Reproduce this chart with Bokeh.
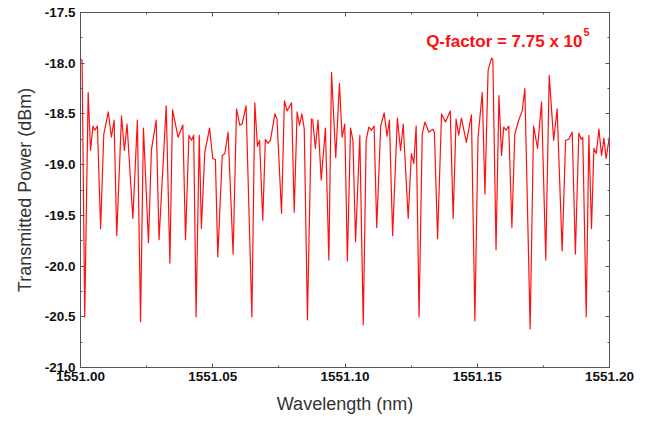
from bokeh.plotting import figure
from bokeh.models import (Range1d, LinearAxis, FixedTicker, NumeralTickFormatter, Label,
                          ColumnDataSource, CustomJSTickFormatter)
from bokeh.embed import file_html
from bokeh.resources import INLINE

# ---- data ----
wavelength = [
    1551.0000, 1551.0006, 1551.0016, 1551.0029, 1551.0038, 1551.0047, 1551.0054, 1551.0064,
    1551.0076, 1551.0088, 1551.0105, 1551.0117, 1551.0127, 1551.0137, 1551.0155, 1551.0166,
    1551.0176, 1551.0198, 1551.0215, 1551.0227, 1551.0238, 1551.0257, 1551.0268, 1551.0286,
    1551.0297, 1551.0324, 1551.0338, 1551.0348, 1551.0369, 1551.0387, 1551.0397, 1551.0410,
    1551.0420, 1551.0428, 1551.0437, 1551.0449, 1551.0457, 1551.0470,
    1551.0488, 1551.0500, 1551.0510, 1551.0519, 1551.0536, 1551.0546, 1551.0558, 1551.0577,
    1551.0590, 1551.0602, 1551.0611, 1551.0626, 1551.0648, 1551.0659, 1551.0669, 1551.0677,
    1551.0689, 1551.0699, 1551.0709, 1551.0718, 1551.0735, 1551.0743, 1551.0760, 1551.0771,
    1551.0781, 1551.0798, 1551.0808, 1551.0819, 1551.0828, 1551.0837, 1551.0846, 1551.0858,
    1551.0873, 1551.0878, 1551.0888, 1551.0898, 1551.0910, 1551.0926, 1551.0939, 1551.0949,
    1551.0965,
    1551.0979, 1551.0989, 1551.0999, 1551.1009, 1551.1021, 1551.1030, 1551.1040, 1551.1056,
    1551.1069, 1551.1080, 1551.1090, 1551.1100, 1551.1110, 1551.1120, 1551.1135, 1551.1148,
    1551.1159, 1551.1168, 1551.1180, 1551.1198, 1551.1210, 1551.1220, 1551.1239, 1551.1251,
    1551.1260, 1551.1269, 1551.1280, 1551.1292, 1551.1302, 1551.1317, 1551.1332, 1551.1338,
    1551.1350, 1551.1365, 1551.1380, 1551.1398, 1551.1409, 1551.1420, 1551.1430, 1551.1440,
    1551.1459,
    1551.1478, 1551.1491, 1551.1503, 1551.1519, 1551.1529, 1551.1541, 1551.1554, 1551.1559,
    1551.1571, 1551.1582, 1551.1592, 1551.1600, 1551.1609, 1551.1619, 1551.1631, 1551.1642,
    1551.1657, 1551.1670, 1551.1680, 1551.1700, 1551.1713, 1551.1728, 1551.1743, 1551.1759,
    1551.1772, 1551.1789, 1551.1802, 1551.1821, 1551.1834, 1551.1846, 1551.1859, 1551.1871,
    1551.1884, 1551.1893, 1551.1899, 1551.1912, 1551.1922, 1551.1932, 1551.1941, 1551.1950,
    1551.1960, 1551.1970, 1551.1979, 1551.1987, 1551.2000,
]
power_dbm = [
    -17.96, -17.97, -20.50, -18.29, -18.86, -18.62, -18.66, -18.62,
    -19.63, -18.70, -18.48, -18.73, -18.56, -19.70, -18.52, -18.86,
    -18.60, -19.53, -18.56, -20.55, -18.64, -19.77, -18.86, -18.56,
    -19.74, -18.42, -19.97, -18.46, -18.73, -18.61, -19.74, -18.71,
    -18.76, -18.71, -20.50, -18.71, -19.63, -18.88,
    -18.64, -18.94, -18.95, -19.91, -18.91, -18.89, -18.68, -19.88,
    -18.45, -18.61, -18.60, -18.42, -20.50, -18.39, -18.82, -18.76,
    -19.55, -18.75, -18.79, -18.76, -18.50, -18.55, -19.48, -18.37,
    -18.47, -18.39, -19.47, -18.48, -18.61, -18.50, -18.65, -20.53,
    -18.55, -18.56, -18.84, -18.56, -19.15, -18.64, -19.94, -18.09,
    -18.93,
    -18.20, -18.73, -18.60, -19.95, -18.64, -18.76, -19.76, -18.71,
    -20.58, -18.76, -18.63, -18.66, -18.62, -19.62, -18.62, -18.49,
    -18.72, -18.56, -19.70, -18.54, -18.86, -18.60, -19.53, -18.89,
    -18.99, -18.62, -20.50, -18.70, -18.58, -18.68, -18.65, -18.68,
    -19.73, -18.50, -18.58, -18.47, -19.53, -18.55, -18.71, -18.54,
    -18.78,
    -18.51, -20.54, -18.73, -18.29, -19.29, -18.07, -17.95, -17.96,
    -19.84, -18.32, -18.91, -18.63, -18.66, -18.62, -19.62, -18.70,
    -18.56, -18.47, -18.25, -20.62, -18.62, -18.84, -18.38, -19.94,
    -18.12, -18.76, -18.45, -19.85, -18.76, -18.75, -18.68, -19.88,
    -18.69, -18.75, -18.73, -20.50, -18.71, -19.63, -18.84, -18.89,
    -18.65, -18.91, -18.74, -18.94, -18.72,
]
x_ticks = [1551.00, 1551.05, 1551.10, 1551.15, 1551.20]
x_minor_ticks = [1551.025, 1551.075, 1551.125, 1551.175]
y_ticks = [-21.0, -20.5, -20.0, -19.5, -19.0, -18.5, -18.0, -17.5]
y_minor_ticks = [-20.75, -20.25, -19.75, -19.25, -18.75, -18.25, -17.75]
annotation_text = "Q-factor = 7.75 x 10"
annotation_sup = "5"

FONT = "Liberation Sans"
AXIS_COL = "#555555"
RED = "#ff1010"

p = figure(width=651, height=423, output_backend="svg", toolbar_location=None,
           x_range=Range1d(1551.0, 1551.2), y_range=Range1d(-21.0, -17.5),
           min_border_left=80, min_border_right=42, min_border_top=12, min_border_bottom=56)
p.xgrid.visible = False
p.ygrid.visible = False
p.outline_line_color = AXIS_COL
p.outline_line_width = 1
p.background_fill_color = "white"
p.border_fill_color = "white"

src = ColumnDataSource(dict(x=wavelength, y=power_dbm))
p.line("x", "y", source=src, line_color=RED, line_width=1.2, line_join="round")

xt = FixedTicker(ticks=x_ticks, minor_ticks=x_minor_ticks)
yt = FixedTicker(ticks=y_ticks, minor_ticks=y_minor_ticks)


def style(ax):
    ax.axis_line_color = AXIS_COL
    ax.major_tick_line_color = AXIS_COL
    ax.minor_tick_line_color = AXIS_COL
    ax.major_tick_in = 4
    ax.major_tick_out = 0
    ax.minor_tick_in = 2
    ax.minor_tick_out = 0
    ax.major_label_text_font = FONT
    ax.major_label_text_font_style = "bold"
    ax.major_label_text_color = "#111111"
    ax.major_label_text_font_size = "13.5px"
    ax.axis_label_text_font = FONT
    ax.axis_label_text_font_style = "normal"
    ax.axis_label_text_color = "#333333"
    ax.axis_label_text_font_size = "18px"


p.xaxis.ticker = xt
p.xaxis.formatter = NumeralTickFormatter(format="0.00")
p.xaxis.axis_label = "Wavelength (nm)"
p.xaxis.major_label_standoff = 4
p.xaxis.axis_label_standoff = 10
style(p.xaxis[0])

p.yaxis.ticker = yt
p.yaxis.formatter = NumeralTickFormatter(format="0.0")
p.yaxis.axis_label = "Transmitted Power (dBm)"
p.yaxis.major_label_standoff = 5
p.yaxis.axis_label_standoff = 7
style(p.yaxis[0])

top = LinearAxis(ticker=xt, formatter=CustomJSTickFormatter(code="return '';"))
style(top)
top.major_label_standoff = 0
p.add_layout(top, "above")

right = LinearAxis(ticker=yt, formatter=CustomJSTickFormatter(code="return '';"))
style(right)
right.major_label_standoff = 0
p.add_layout(right, "right")

p.add_layout(Label(x=1551.1898, y=-17.781, text=annotation_text, text_align="right",
                   text_baseline="alphabetic", text_color=RED, text_font=FONT,
                   text_font_style="bold", text_font_size="17px"))
p.add_layout(Label(x=1551.1902, y=-17.694, text=annotation_sup, text_align="left",
                   text_baseline="alphabetic", text_color=RED, text_font=FONT,
                   text_font_style="bold", text_font_size="11px"))

open("out.html", "w").write(file_html(p, INLINE))
